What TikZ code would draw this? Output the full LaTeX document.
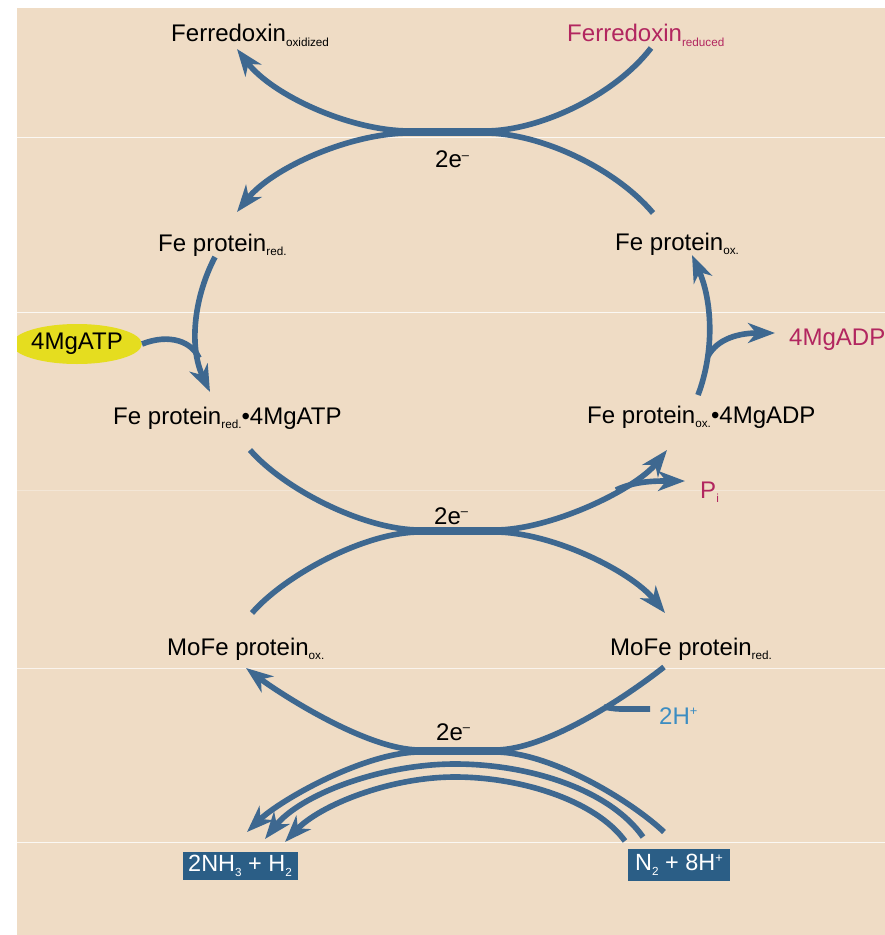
\documentclass[tikz,border=0pt]{standalone}
\usepackage{fontspec}
\setmainfont{Liberation Sans}
\usepackage{tikz}
\usetikzlibrary{arrows.meta,shapes.geometric}
\definecolor{paper}{HTML}{EFDCC5}
\definecolor{flowblue}{HTML}{3E6890}
\definecolor{rose}{HTML}{B2265F}
\definecolor{skyblue}{HTML}{3C8DC2}
\definecolor{boxblue}{HTML}{2B5E86}
\definecolor{atpyellow}{HTML}{E5DD1F}
\newcommand{\lowsub}[1]{\raisebox{-4pt}{\fontsize{10}{10}\selectfont #1}}
\newcommand{\highsup}[1]{\raisebox{7pt}{\fontsize{11}{11}\selectfont #1}}
\tikzset{
  chem/.style={inner sep=0pt,anchor=base west,font=\fontsize{20.5}{24}\selectfont},
  chembox/.style={fill=boxblue,text=white,inner sep=0pt,font=\fontsize{20}{24}\selectfont},
  flowline/.style={draw=flowblue,line width=4.8pt},
  arrow/.style={flowline,-{Stealth[length=23pt,width=17pt,inset=7pt]}},
  scanline/.style={draw=white,line width=0.6pt}
}

\begin{document}
\begin{tikzpicture}[x=0.3mm,y=-0.3mm]
\useasboundingbox (0,0) rectangle (885,935);
\begin{scope}
\clip (17,8) rectangle (885,935);
\fill[paper] (17,8) rectangle (885,935);
\foreach \y/\o in {137/.8,312/.8,490/.3,668/.7,842/.8}
  \draw[scanline,opacity=\o] (17,\y) -- (885,\y);

% labels
\node[chem] (ferOx) at (171,42) {Ferredoxin\lowsub{oxidized}};
\node[chem,text=rose] (ferRed) at (567,42) {Ferredoxin\lowsub{reduced}};
\node[chem] (eTop) at (435,168) {2e\highsup{–}};
\node[chem] (feRed) at (158,251) {Fe protein\lowsub{red.}};
\node[chem] (feOx) at (615,250) {Fe protein\lowsub{ox.}};
\node[ellipse,fill=atpyellow,inner sep=0pt,minimum width=37mm,minimum height=12mm,
  font=\fontsize{20.5}{24}\selectfont] (atp) at (77,344) {4MgATP};
\node[chem,text=rose] (adp) at (789,345) {4MgADP};
\node[chem] (feRedATP) at (113,424) {Fe protein\lowsub{red.}•4MgATP};
\node[chem] (feOxADP) at (587,423) {Fe protein\lowsub{ox.}•4MgADP};
\node[chem,text=rose] (pi) at (700,498) {P\lowsub{i}};
\node[chem] (eMid) at (434,524) {2e\highsup{–}};
\node[chem] (moOx) at (167,655) {MoFe protein\lowsub{ox.}};
\node[chem] (moRed) at (610,655) {MoFe protein\lowsub{red.}};
\node[chem,text=skyblue] (hplus) at (659,724) {2H\highsup{+}};
\node[chem] (eBot) at (436,740) {2e\highsup{–}};
\node[chembox,minimum width=34.5mm,minimum height=8.4mm] (nh3) at (240,866)
  {2NH\lowsub{3} + H\lowsub{2}};
\node[chembox,minimum width=30.6mm,minimum height=9.6mm] (n2) at (679,865)
  {N\lowsub{2} + 8H\highsup{+}};

% arc ends
\coordinate (ferRedEnd) at (651,48);
\coordinate (ferOxTip) at (237,49);
\coordinate (feOxEnd) at (653,213);
\coordinate (feRedTip) at (237,212);
\coordinate (feRedEnd) at (215,257);
\coordinate (feRedATPTip) at (210,392);
\coordinate (atpJoin) at (199,358);
\coordinate (feOxADPEnd) at (698,395);
\coordinate (feOxTip) at (692,255);
\coordinate (adpFork) at (708,356);
\coordinate (adpTip) at (775,333);
\coordinate (feRedATPEnd) at (250,450);
\coordinate (feOxADPTip) at (667,450);
\coordinate (piFork) at (616,490);
\coordinate (piTip) at (685,481);
\coordinate (moOxEnd) at (252,613);
\coordinate (moRedTip) at (665,613);
\coordinate (moRedEnd) at (664,667);
\coordinate (moOxTip) at (246,668);
\coordinate (hplusEnd) at (650,709);
\coordinate (hplusJoin) at (604,707);
\coordinate (n2a) at (664,832);
\coordinate (n2b) at (643,837);
\coordinate (n2c) at (625,841);
\coordinate (nh3a) at (247,832);
\coordinate (nh3b) at (265,839);
\coordinate (nh3c) at (285,842);

% ferredoxin / Fe protein exchange
\draw[arrow] (ferRedEnd) .. controls (615,95) and (540,131) .. (485,131)
  -- (410,131) .. controls (350,131) and (272,95) .. (ferOxTip);
\draw[arrow] (feOxEnd) .. controls (615,168) and (540,133) .. (485,133)
  -- (410,133) .. controls (350,133) and (272,168) .. (feRedTip);

% ATP binding and release
\draw[arrow] (feRedEnd) .. controls (195,295) and (188,345) .. (feRedATPTip);
\draw[flowline] (atp.east) .. controls (170,333) and (192,342) .. (atpJoin);
\draw[arrow] (feOxADPEnd) .. controls (715,350) and (712,300) .. (feOxTip);
\draw[arrow] (adpFork) .. controls (718,338) and (740,333) .. (adpTip);

% Fe protein / MoFe protein exchange
\draw[arrow] (feRedATPEnd) .. controls (285,490) and (365,530) .. (420,530)
  -- (495,530) .. controls (550,530) and (635,490) .. (feOxADPTip);
\draw[arrow] (piFork) .. controls (635,481) and (655,481) .. (piTip);
\draw[arrow] (moOxEnd) .. controls (285,575) and (365,532) .. (420,532)
  -- (495,532) .. controls (550,532) and (630,570) .. (moRedTip);

% MoFe protein / substrate
\draw[arrow] (moRedEnd) .. controls (635,690) and (550,750) .. (495,750)
  -- (420,750) .. controls (365,750) and (275,690) .. (moOxTip);
\draw[flowline] (hplusEnd) -- (625,709) .. controls (616,709) .. (hplusJoin);
\draw[arrow] (n2a) .. controls (630,800) and (550,752) .. (495,752)
  -- (420,752) .. controls (365,752) and (280,800) .. (nh3a);
\draw[arrow] (n2b) .. controls (610,790) and (530,764) .. (455,764)
  .. controls (380,764) and (300,795) .. (nh3b);
\draw[arrow] (n2c) .. controls (595,800) and (520,777) .. (455,777)
  .. controls (390,777) and (320,805) .. (nh3c);
\end{scope}
\end{tikzpicture}
\end{document}
